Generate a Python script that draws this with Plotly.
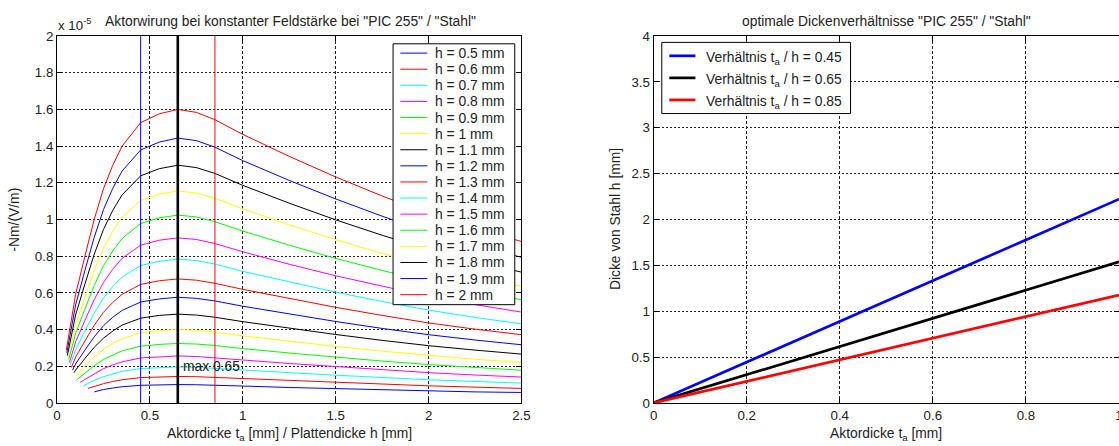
import plotly.graph_objects as go

# layout is designed on a 1119 x 446 frame; the graph div itself is drawn at
# DIV_W x DIV_H page pixels (see write_html at the end)
W, H = 1119, 446
DIV_W, DIV_H = 1133, 462
SCALE = 1.025  # text enlargement for the larger div

# ---------------------------------------------------------------------------
# Left panel: actuator effect vs. thickness ratio t_a / h, values in 1e-5 Nm/(V/m)
# ---------------------------------------------------------------------------
H_VALUES = [0.5, 0.6, 0.7, 0.8, 0.9, 1.0, 1.1, 1.2, 1.3, 1.4, 1.5, 1.6, 1.7, 1.8, 1.9, 2.0]

# first ratio of each curve (thinnest actuator layer)
START_RATIO = [0.2, 0.1667, 0.1429, 0.125, 0.1111, 0.1, 0.0909, 0.0833,
               0.0769, 0.0714, 0.0667, 0.0625, 0.0588, 0.0556, 0.0526, 0.05]

# ratios that follow the start point of every curve
RATIO_GRID = [0.1, 0.15, 0.2, 0.25, 0.3, 0.35, 0.45, 0.55, 0.65, 0.75,
              0.85, 1.0, 1.25, 1.5, 1.75, 2.0, 2.25, 2.5]

force_h05 = [0.060, 0.073, 0.081, 0.088, 0.096, 0.099, 0.100, 0.099, 0.097, 0.092,
             0.084, 0.077, 0.071, 0.065, 0.060, 0.057]
force_h06 = [0.079, 0.090, 0.105, 0.117, 0.126, 0.138, 0.142, 0.144, 0.143, 0.139,
             0.132, 0.121, 0.111, 0.102, 0.093, 0.086, 0.079]
force_h07 = [0.094, 0.098, 0.123, 0.143, 0.159, 0.172, 0.187, 0.193, 0.196, 0.194,
             0.189, 0.179, 0.165, 0.151, 0.138, 0.126, 0.117, 0.108]
force_h08 = [0.113, 0.128, 0.160, 0.187, 0.207, 0.224, 0.245, 0.252, 0.256, 0.253,
             0.247, 0.234, 0.215, 0.197, 0.180, 0.165, 0.152, 0.141]
force_h09 = [0.130, 0.162, 0.203, 0.237, 0.262, 0.284, 0.309, 0.319, 0.324, 0.321,
             0.313, 0.296, 0.272, 0.249, 0.228, 0.209, 0.193, 0.178]
force_h10 = [0.148, 0.200, 0.250, 0.292, 0.324, 0.350, 0.382, 0.394, 0.400, 0.396,
             0.386, 0.366, 0.336, 0.308, 0.282, 0.258, 0.238, 0.220]
force_h11 = [0.165, 0.179, 0.242, 0.303, 0.353, 0.392, 0.424, 0.462, 0.477, 0.484,
             0.479, 0.467, 0.443, 0.407, 0.373, 0.341, 0.312, 0.288, 0.266]
force_h12 = [0.179, 0.213, 0.288, 0.360, 0.421, 0.467, 0.504, 0.550, 0.567, 0.576,
             0.570, 0.556, 0.527, 0.484, 0.444, 0.406, 0.372, 0.343, 0.317]
force_h13 = [0.193, 0.250, 0.338, 0.423, 0.494, 0.548, 0.592, 0.646, 0.666, 0.676,
             0.669, 0.652, 0.619, 0.568, 0.521, 0.477, 0.436, 0.402, 0.372]
force_h14 = [0.208, 0.290, 0.392, 0.490, 0.572, 0.635, 0.686, 0.749, 0.772, 0.784,
             0.776, 0.757, 0.717, 0.659, 0.604, 0.553, 0.506, 0.466, 0.431]
force_h15 = [0.220, 0.333, 0.450, 0.563, 0.657, 0.729, 0.788, 0.860, 0.887, 0.900,
             0.891, 0.869, 0.824, 0.756, 0.693, 0.635, 0.581, 0.536, 0.495]
force_h16 = [0.236, 0.379, 0.512, 0.640, 0.748, 0.829, 0.896, 0.978, 1.009, 1.024,
             1.014, 0.988, 0.937, 0.860, 0.788, 0.722, 0.661, 0.609, 0.563]
force_h17 = [0.249, 0.428, 0.578, 0.723, 0.844, 0.936, 1.012, 1.104, 1.139, 1.156,
             1.144, 1.116, 1.058, 0.971, 0.890, 0.815, 0.746, 0.688, 0.636]
force_h18 = [0.259, 0.480, 0.648, 0.810, 0.946, 1.050, 1.134, 1.238, 1.277, 1.296,
             1.283, 1.251, 1.186, 1.089, 0.998, 0.914, 0.836, 0.771, 0.713]
force_h19 = [0.274, 0.534, 0.722, 0.903, 1.054, 1.170, 1.264, 1.379, 1.422, 1.444,
             1.430, 1.394, 1.321, 1.213, 1.112, 1.018, 0.931, 0.859, 0.794]
force_h20 = [0.288, 0.592, 0.800, 1.000, 1.168, 1.296, 1.400, 1.528, 1.576, 1.600,
             1.584, 1.544, 1.464, 1.344, 1.232, 1.128, 1.032, 0.952, 0.880]

FORCE_CURVES = [force_h05, force_h06, force_h07, force_h08, force_h09, force_h10,
                force_h11, force_h12, force_h13, force_h14, force_h15, force_h16,
                force_h17, force_h18, force_h19, force_h20]

# vertical marker lines (ratio) and the optimum label
MARKER_RATIO = [0.45, 0.85, 0.65]
MARKER_SPAN = [0, 2]
OPT_RATIO = 0.65
OPT_TEXT = "max 0.65"

LEFT_XTICKS = [0, 0.5, 1, 1.5, 2, 2.5]
LEFT_XTEXT = ["0", "0.5", "1", "1.5", "2", "2.5"]
LEFT_YTICKS = [0, 0.2, 0.4, 0.6, 0.8, 1.0, 1.2, 1.4, 1.6, 1.8, 2.0]
LEFT_YTEXT = ["0", "0.2", "0.4", "0.6", "0.8", "1", "1.2", "1.4", "1.6", "1.8", "2"]

# ---------------------------------------------------------------------------
# Right panel: optimal steel thickness h vs. actuator thickness t_a
# ---------------------------------------------------------------------------
TA = [0.0, 0.2, 0.4, 0.6, 0.8, 1.0]
h_ratio_045 = [0.0, 0.444, 0.889, 1.333, 1.778, 2.222]
h_ratio_065 = [0.0, 0.308, 0.615, 0.923, 1.231, 1.538]
h_ratio_085 = [0.0, 0.235, 0.471, 0.706, 0.941, 1.176]
RATIO_LABELS = ["0.45", "0.65", "0.85"]

RIGHT_XTICKS = [0, 0.2, 0.4, 0.6, 0.8, 1.0]
RIGHT_XTEXT = ["0", "0.2", "0.4", "0.6", "0.8", "1"]
RIGHT_YTICKS = [0, 0.5, 1, 1.5, 2, 2.5, 3, 3.5, 4]
RIGHT_YTEXT = ["0", "0.5", "1", "1.5", "2", "2.5", "3", "3.5", "4"]

# MATLAB default colour order
LINE_COLORS = ["#0000ff", "#ff0000", "#00ffff", "#ff00ff", "#00ff00", "#ffff00", "#000000"]

FONT = "Liberation Sans, Arial, Helvetica, sans-serif"
TXT = "#222222"
GRID = "#222222"
TEXT_SIZE = 13.5 * SCALE
TICK_SIZE = 13 * SCALE


def px(x):
    return x / W


def py(y):
    return 1 - y / H


fig = go.Figure()

for i, (hv, x0, ys) in enumerate(zip(H_VALUES, START_RATIO, FORCE_CURVES)):
    xs = [x0] + [r for r in RATIO_GRID if r > x0 + 1e-6]
    fig.add_trace(go.Scatter(
        x=xs, y=ys, mode="lines", xaxis="x", yaxis="y",
        line=dict(color=LINE_COLORS[i % 7], width=1),
        name=f"h = {hv:g} mm", hoverinfo="skip", showlegend=False))

for r, col, wd in zip(MARKER_RATIO, ["#0000ff", "#ff0000", "#000000"], [1, 1, 2.6]):
    fig.add_trace(go.Scatter(
        x=[r, r], y=MARKER_SPAN, mode="lines", xaxis="x", yaxis="y",
        line=dict(color=col, width=wd), hoverinfo="skip", showlegend=False))

RIGHT_SERIES = [h_ratio_045, h_ratio_065, h_ratio_085]
RIGHT_COLORS = ["#0000ff", "#000000", "#ff0000"]
for ys, col, lab in zip(RIGHT_SERIES, RIGHT_COLORS, RATIO_LABELS):
    fig.add_trace(go.Scatter(
        x=TA, y=ys, mode="lines", xaxis="x2", yaxis="y2",
        line=dict(color=col, width=2.7), name=lab,
        hoverinfo="skip", showlegend=False))

axis_common = dict(
    showline=True, linecolor="#000000", linewidth=1, mirror="ticks",
    ticks="inside", ticklen=5, tickwidth=1, tickcolor="#000000",
    showgrid=True, gridcolor=GRID, gridwidth=1, zeroline=False,
    tickfont=dict(family=FONT, size=TICK_SIZE, color=TXT), tickmode="array",
)

y_dom = [py(403), py(37)]
fig.update_layout(
    autosize=True,
    margin=dict(l=0, r=0, t=0, b=0, pad=0),
    paper_bgcolor="#ffffff", plot_bgcolor="#ffffff",
    font=dict(family=FONT, size=TEXT_SIZE, color=TXT),
    showlegend=False,
    xaxis=dict(domain=[px(57), px(521)], range=[0, 2.5], anchor="y",
               tickvals=LEFT_XTICKS, ticktext=LEFT_XTEXT, griddash="3px,2px",
               **axis_common),
    yaxis=dict(domain=y_dom, range=[0, 2], anchor="x",
               tickvals=LEFT_YTICKS, ticktext=LEFT_YTEXT, griddash="2px,2px",
               **axis_common),
    xaxis2=dict(domain=[px(653), px(1118)], range=[0, 1], anchor="y2",
                tickvals=RIGHT_XTICKS, ticktext=RIGHT_XTEXT, griddash="3px,2px",
                **axis_common),
    yaxis2=dict(domain=y_dom, range=[0, 4], anchor="x2",
                tickvals=RIGHT_YTICKS, ticktext=RIGHT_YTEXT, griddash="2px,2px",
                **axis_common),
)

shapes = []
annotations = []


def text(x, y, s, size=TEXT_SIZE, xanchor="center", yanchor="middle", angle=0):
    annotations.append(dict(
        x=px(x), y=py(y), xref="paper", yref="paper", text=s, showarrow=False,
        xanchor=xanchor, yanchor=yanchor, textangle=angle, borderpad=0,
        font=dict(family=FONT, size=size, color=TXT)))


# titles and axis labels
text(57, 25, "x 10<sup>-5</sup>", size=TICK_SIZE, xanchor="left")
text(290, 22, 'Aktorwirung bei konstanter Feldstärke bei "PIC 255" / "Stahl"')
text(289, 434, "Aktordicke t<sub>a</sub> [mm] / Plattendicke h [mm]")
text(14, 220, "-Nm/(V/m)", angle=-90)
text(886, 22, 'optimale Dickenverhältnisse "PIC 255" / "Stahl"')
text(885, 434, "Aktordicke t<sub>a</sub> [mm]")
text(615, 220, "Dicke von Stahl h [mm]", angle=-90)

# optimum label inside the left panel
annotations.append(dict(
    x=OPT_RATIO + 0.02, y=0.2, xref="x", yref="y", text=OPT_TEXT, showarrow=False,
    xanchor="left", yanchor="middle", borderpad=0,
    font=dict(family=FONT, size=TEXT_SIZE, color=TXT)))

# left legend
lx0, lx1, ly0, ly1 = 392.7, 514.3, 44.7, 305.0
shapes.append(dict(type="rect", xref="paper", yref="paper",
                   x0=px(lx0), x1=px(lx1), y0=py(ly1), y1=py(ly0),
                   line=dict(color="#000000", width=1), fillcolor="#ffffff"))
row_h = (295.0 - 54.0) / (len(H_VALUES) - 1)
for i, hv in enumerate(H_VALUES):
    yy = 54.0 + i * row_h
    shapes.append(dict(type="line", xref="paper", yref="paper",
                       x0=px(400), x1=px(427), y0=py(yy), y1=py(yy),
                       line=dict(color=LINE_COLORS[i % 7], width=1)))
    text(434, yy, f"h = {hv:g} mm", xanchor="left")

# right legend
rx0, rx1, ry0, ry1 = 661.2, 849.8, 43.3, 114.3
shapes.append(dict(type="rect", xref="paper", yref="paper",
                   x0=px(rx0), x1=px(rx1), y0=py(ry1), y1=py(ry0),
                   line=dict(color="#000000", width=1), fillcolor="#ffffff"))
for i, (col, lab) in enumerate(zip(RIGHT_COLORS, RATIO_LABELS)):
    yy = 56.7 + i * 22.0
    shapes.append(dict(type="line", xref="paper", yref="paper",
                       x0=px(668.7), x1=px(694.8), y0=py(yy), y1=py(yy),
                       line=dict(color=col, width=2.7)))
    text(704.4, yy + 2, f"Verhältnis t<sub>a</sub> / h = {lab}", xanchor="left")

fig.update_layout(shapes=shapes, annotations=annotations)

# the graph div is pulled over the default body margin and sized so that
# it covers the whole captured page area
fig.write_html(
    "out.html",
    default_width=f"{DIV_W}px",
    default_height=f"{DIV_H}px; margin:-8px -8px -8px -4px",
)
